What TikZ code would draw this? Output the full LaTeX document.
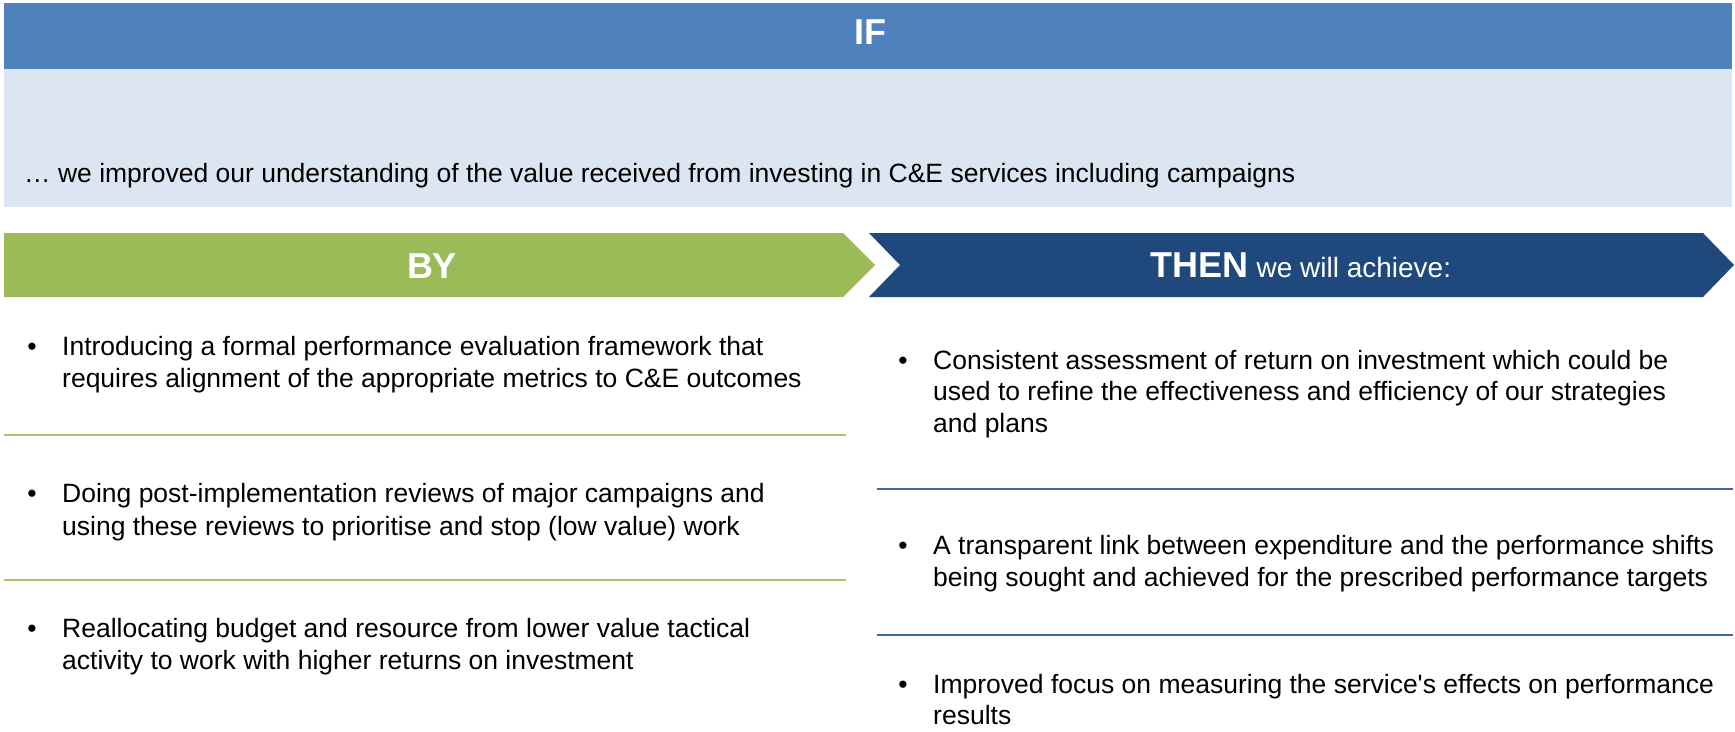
\documentclass[tikz,border=0pt]{standalone}
\usepackage{fontspec}
\setmainfont{Liberation Sans}
\definecolor{hdrblue}{HTML}{4F81BD}
\definecolor{paleblue}{HTML}{DCE6F2}
\definecolor{leafgreen}{HTML}{9BBB59}
\definecolor{navy}{HTML}{1F497D}
\definecolor{rulegreen}{HTML}{A8C46E}
\definecolor{ruleblue}{HTML}{4268A0}
\tikzset{
  body/.style={inner sep=0pt, anchor=base west, text=black, font=\fontsize{26.5}{31}\selectfont},
  dot/.style={inner sep=0pt, anchor=base, text=black, font=\fontsize{26.5}{31}\selectfont},
  banner/.style={inner sep=0pt, anchor=base, text=white, font=\fontsize{36}{40}\selectfont\bfseries},
  greenrule/.style={draw=rulegreen, line width=2pt},
  bluerule/.style={draw=ruleblue, line width=2pt},
}
\begin{document}
\begin{tikzpicture}[x=1pt, y=-1pt]
\useasboundingbox (0,0) rectangle (1735,731);
\fill[white] (0,0) rectangle (1735,731);

% IF header and condition band
\fill[hdrblue] (4,3) rectangle (1732,69);
\fill[paleblue] (4,69) rectangle (1732,207);
\node[banner] (iftitle) at (870,44) {IF};
\node[body] (ifline) at (24,182) {… we improved our understanding of the value received from investing in C\&E services including campaigns};

% BY and THEN chevrons
\fill[leafgreen] (4,233) -- (843,233) -- (875,265) -- (843,297) -- (4,297) -- cycle;
\fill[navy] (869,233) -- (1703,233) -- (1734,265) -- (1703,297) -- (869,297) -- (900,265) -- cycle;
\node[banner] (bytitle) at (432,278) {BY};
\node[banner] (thentitle) at (1301,277) {THEN\fontsize{28}{33}\selectfont\mdseries{} we will achieve:};

% BY column
\node[dot] (ldot1) at (32,355) {•};
\node[body] (l1a) at (62,355) {Introducing a formal performance evaluation framework that};
\node[body] (l1b) at (62,387) {requires alignment of the appropriate metrics to C\&E outcomes};
\draw[greenrule] (4,435) -- (846,435);
\node[dot] (ldot2) at (32,502) {•};
\node[body] (l2a) at (62,502) {Doing post-implementation reviews of major campaigns and};
\node[body] (l2b) at (62,535) {using these reviews to prioritise and stop (low value) work};
\draw[greenrule] (4,580) -- (846,580);
\node[dot] (ldot3) at (32,637) {•};
\node[body] (l3a) at (62,637) {Reallocating budget and resource from lower value tactical};
\node[body] (l3b) at (62,669) {activity to work with higher returns on investment};

% THEN column
\node[dot] (rdot1) at (903,369) {•};
\node[body] (r1a) at (933,369) {Consistent assessment of return on investment which could be};
\node[body] (r1b) at (933,400) {used to refine the effectiveness and efficiency of our strategies};
\node[body] (r1c) at (933,432) {and plans};
\draw[bluerule] (877,489) -- (1733,489);
\node[dot] (rdot2) at (903,554) {•};
\node[body] (r2a) at (933,554) {A transparent link between expenditure and the performance shifts};
\node[body] (r2b) at (933,586) {being sought and achieved for the prescribed performance targets};
\draw[bluerule] (877,635) -- (1733,635);
\node[dot] (rdot3) at (903,693) {•};
\node[body] (r3a) at (933,693) {Improved focus on measuring the service\textquotesingle s effects on performance};
\node[body] (r3b) at (933,724) {results};
\end{tikzpicture}
\end{document}
